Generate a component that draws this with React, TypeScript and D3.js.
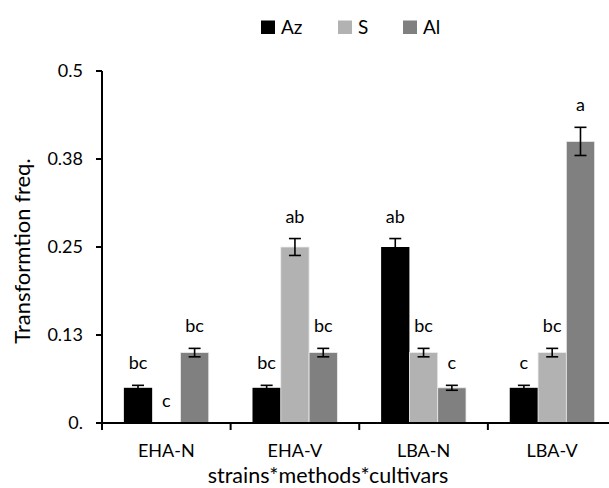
import { useRef, useEffect } from "react";
import * as d3 from "d3";

const categories = ["EHA-N", "EHA-V", "LBA-N", "LBA-V"];
const seriesNames = ["Az", "S", "Al"];
const seriesColors = ["#000000", "#b2b2b2", "#808080"];
const azValues = [0.05, 0.05, 0.25, 0.05];
const sValues = [0.0, 0.25, 0.1, 0.1];
const alValues = [0.1, 0.1, 0.05, 0.4];
const azErrors = [0.0035, 0.0035, 0.012, 0.0035];
const sErrors = [0.0, 0.012, 0.006, 0.006];
const alErrors = [0.006, 0.006, 0.0035, 0.02];
const azLetters = ["bc", "bc", "ab", "c"];
const sLetters = ["c", "ab", "bc", "bc"];
const alLetters = ["bc", "bc", "c", "a"];
const yTickValues = [0, 0.125, 0.25, 0.375, 0.5];
const yTickLabels = ["0.", "0.13", "0.25", "0.38", "0.5"];

const W = 609;
const H = 488;
const FONT = "Lato, sans-serif";

export default function App() {
  const ref = useRef<SVGSVGElement>(null);

  useEffect(() => {
    const svg = d3.select(ref.current);
    svg.selectAll("*").remove();

    const values = [azValues, sValues, alValues];
    const errors = [azErrors, sErrors, alErrors];
    const letters = [azLetters, sLetters, alLetters];

    const left = 102, right = 616.5, top = 71, bottom = 423;
    const y = d3.scaleLinear().domain([0, 0.5]).range([bottom, top]);
    const x0 = d3.scaleBand().domain(categories).range([left, right]).paddingInner(0.34).paddingOuter(0.17);
    const x1 = d3.scaleBand().domain(seriesNames).range([0, x0.bandwidth()]);

    // bars
    const groups = svg.append("g").selectAll("g")
      .data(categories).enter().append("g")
      .attr("transform", d => `translate(${x0(d)},0)`);

    seriesNames.forEach((s, si) => {
      groups.append("rect")
        .attr("x", x1(s)!)
        .attr("y", (d, i) => y(values[si][i]))
        .attr("width", x1.bandwidth())
        .attr("height", (d, i) => bottom - y(values[si][i]))
        .attr("fill", seriesColors[si])
        .attr("stroke", si === 0 ? "none" : "#ebebeb")
        .attr("stroke-width", 0.8);
    });

    // error bars + letters
    seriesNames.forEach((s, si) => {
      const cx = x1(s)! + x1.bandwidth() / 2;
      groups.each(function (d, i) {
        const g = d3.select(this);
        const v = values[si][i], e = errors[si][i];
        if (e > 0) {
          g.append("line").attr("x1", cx).attr("x2", cx)
            .attr("y1", y(v + e)).attr("y2", y(v - e))
            .attr("stroke", "#000").attr("stroke-width", 1.6);
          [v + e, v - e].forEach(t => {
            g.append("line").attr("x1", cx - 6).attr("x2", cx + 6)
              .attr("y1", y(t)).attr("y2", y(t))
              .attr("stroke", "#000").attr("stroke-width", 1.6);
          });
        }
        g.append("text")
          .attr("x", cx)
          .attr("y", y(v + e) - 16)
          .attr("text-anchor", "middle")
          .attr("font-family", FONT)
          .attr("font-size", 18)
          .attr("fill", "#000")
          .text(letters[si][i]);
      });
    });

    // y axis
    const ya = svg.append("g");
    ya.append("line").attr("x1", left).attr("x2", left).attr("y1", top).attr("y2", bottom + 1)
      .attr("stroke", "#000").attr("stroke-width", 2);
    yTickValues.forEach((t, i) => {
      ya.append("line").attr("x1", left - 6).attr("x2", left).attr("y1", y(t)).attr("y2", y(t))
        .attr("stroke", "#000").attr("stroke-width", 2);
      ya.append("text").attr("x", left - 19).attr("y", y(t)).attr("dy", "0.36em")
        .attr("text-anchor", "end").attr("font-family", FONT).attr("font-size", 18)
        .text(yTickLabels[i]);
    });

    // x axis
    const xa = svg.append("g");
    xa.append("line").attr("x1", left - 6).attr("x2", right).attr("y1", bottom).attr("y2", bottom)
      .attr("stroke", "#000").attr("stroke-width", 2);
    const step = x0.step();
    d3.range(categories.length + 1).forEach(i => {
      const tx = left + i * step;
      xa.append("line").attr("x1", tx).attr("x2", tx).attr("y1", bottom).attr("y2", bottom + 7)
        .attr("stroke", "#000").attr("stroke-width", 2);
    });
    categories.forEach(c => {
      xa.append("text").attr("x", x0(c)! + x0.bandwidth() / 2).attr("y", 457)
        .attr("text-anchor", "middle").attr("font-family", FONT).attr("font-size", 18)
        .text(c);
    });

    // axis titles
    svg.append("text").attr("x", 328).attr("y", 482.5).attr("text-anchor", "middle")
      .attr("font-family", FONT).attr("font-size", 21.5).text("strains*methods*cultivars");
    svg.append("text").attr("transform", `translate(30,251) rotate(-90)`)
      .attr("text-anchor", "middle").attr("font-family", FONT).attr("font-size", 22)
      .text("Transformtion freq.");

    // legend
    const legendX = [261, 338, 403];
    const lg = svg.append("g");
    seriesNames.forEach((s, i) => {
      lg.append("rect").attr("x", legendX[i]).attr("y", 20.5).attr("width", 14).attr("height", 13.5)
        .attr("fill", seriesColors[i]);
      lg.append("text").attr("x", legendX[i] + 20).attr("y", 33.5)
        .attr("font-family", FONT).attr("font-size", 19).text(s);
    });
  }, []);

  return (
    <svg ref={ref} width={W} height={H}
      style={{ position: "absolute", left: 0, top: 0, background: "#fff" }} />
  );
}
